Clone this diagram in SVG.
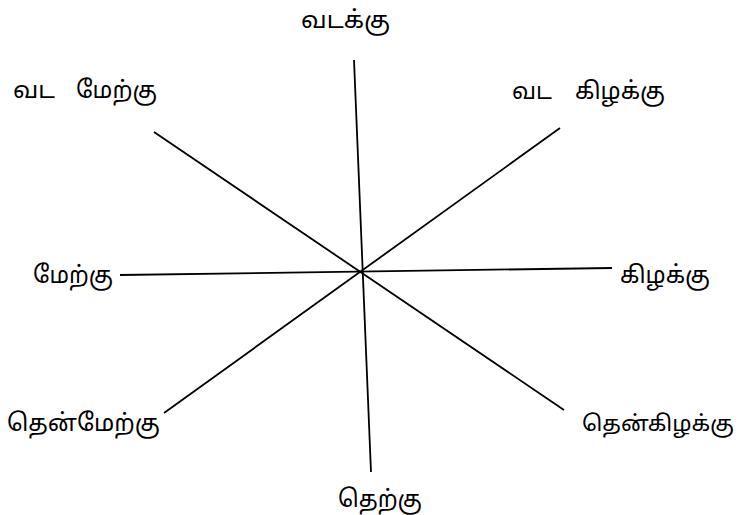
<svg xmlns="http://www.w3.org/2000/svg" width="743" height="515" viewBox="0 0 743 515">
<style>
.lbl{font-family:"Noto Sans Tamil","Lohit Tamil","Noto Sans","DejaVu Sans",sans-serif;font-size:24px;fill:#000}
.ln{stroke:#000;stroke-width:1.8;fill:none}
</style>
<rect width="743" height="515" fill="#fff"/>
<g id="connectors">
<line class="ln" x1="354" y1="60" x2="371" y2="472"/>
<line class="ln" x1="154" y1="132" x2="564" y2="410"/>
<line class="ln" x1="560" y1="128" x2="164" y2="413"/>
<line class="ln" x1="120" y1="275" x2="612" y2="268"/>
</g>
<g id="north"><text class="lbl" x="301" y="28" textLength="89" lengthAdjust="spacingAndGlyphs">வடக்கு</text></g>
<g id="northwest"><text class="lbl" y="98"><tspan x="13" textLength="42" lengthAdjust="spacingAndGlyphs">வட</tspan><tspan x="76" textLength="81" lengthAdjust="spacingAndGlyphs">மேற்கு</tspan></text></g>
<g id="northeast"><text class="lbl" y="99"><tspan x="512" textLength="40" lengthAdjust="spacingAndGlyphs">வட</tspan><tspan x="575" textLength="90" lengthAdjust="spacingAndGlyphs">கிழக்கு</tspan></text></g>
<g id="west"><text class="lbl" x="33" y="283" textLength="80" lengthAdjust="spacingAndGlyphs">மேற்கு</text></g>
<g id="east"><text class="lbl" x="620" y="283" textLength="90" lengthAdjust="spacingAndGlyphs">கிழக்கு</text></g>
<g id="southwest"><text class="lbl" x="7" y="431" textLength="153" lengthAdjust="spacingAndGlyphs">தென்மேற்கு</text></g>
<g id="southeast"><text class="lbl" x="582" y="431" style="font-size:22px" textLength="152" lengthAdjust="spacingAndGlyphs">தென்கிழக்கு</text></g>
<g id="south"><text class="lbl" x="338" y="507" textLength="84" lengthAdjust="spacingAndGlyphs">தெற்கு</text></g>
</svg>
